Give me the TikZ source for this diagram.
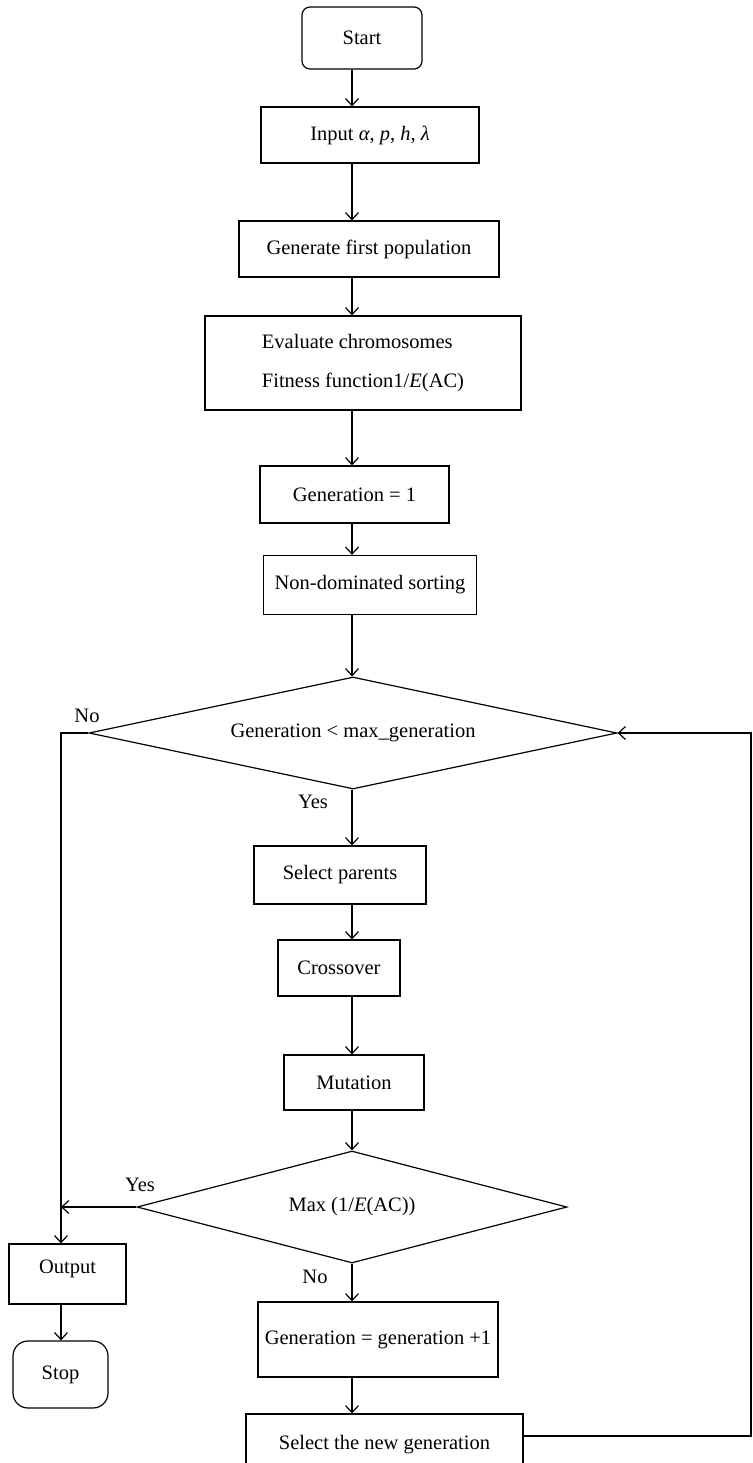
\documentclass[tikz,border=0pt]{standalone}
\usepackage{fontspec}
\setmainfont{Liberation Serif}
\usetikzlibrary{shapes.geometric,arrows.meta}
\begin{document}
\begin{tikzpicture}[x=1pt,y=-1pt,
  every node/.style={font=\fontsize{20.5}{39}\selectfont},
  blk/.style={draw, line width=1.2pt, inner sep=0pt},
  rblk/.style={blk, rounded corners=#1},
  dec/.style={draw, diamond, line width=1.2pt, inner sep=0pt},
  ln/.style={line width=1.2pt},
  arr/.style={line width=1.2pt, -{Straight Barb[length=7pt,width=13pt,line width=1.2pt]}}]
\useasboundingbox (0,0) rectangle (752,1463);
\clip (0,0) rectangle (752,1463);
\coordinate (ax) at (352,0);
\coordinate (lx) at (61,0);
\coordinate (rx) at (751,0);

\node[rblk=8pt, minimum width=120pt, minimum height=62pt] (start) at (362,38) {Start};
\node[blk, minimum width=218pt, minimum height=56pt] (in) at (370,135) {Input \textit{α}, \textit{p}, \textit{h}, \textit{λ}};
\node[blk, minimum width=260pt, minimum height=56pt] (gfp) at (369,249) {Generate first population};
\node[blk, minimum width=316pt, minimum height=94pt, align=left] (eval) at (363,363) {Evaluate chromosomes\\Fitness function1/\textit{E}(AC)};
\node[blk, minimum width=189pt, minimum height=57pt] (gen1) at (354.5,494.5) {Generation = 1};
\node[blk, minimum width=213pt, minimum height=59pt] (nds) at (370,585) {Non-dominated sorting};
\node[dec, minimum width=528pt, minimum height=112pt, aspect=4.7] (dec1) at (353,733) {Generation < max\_generation};
\node[blk, minimum width=172pt, minimum height=58pt] (sel) at (340,875) {Select parents};
\node[blk, minimum width=122pt, minimum height=56pt] (cross) at (339,968) {Crossover};
\node[blk, minimum width=140pt, minimum height=55pt] (mut) at (354,1082.5) {Mutation};
\node[dec, minimum width=430pt, minimum height=112pt, aspect=3.8] (dec2) at (352,1207) {Max (1/\textit{E}(AC))};
\node[blk, minimum width=117pt, minimum height=60pt, text height=10pt, text depth=12pt] (out) at (67.5,1274) {Output};
\node[rblk=15pt, minimum width=95pt, minimum height=67pt] (stop) at (60.5,1374.5) {Stop};
\node[blk, minimum width=240pt, minimum height=75pt] (gnext) at (378,1339.5) {Generation = generation +1};
\node[blk, minimum width=277pt, minimum height=62pt] (selnew) at (384.5,1445) {Select the new generation};

\node (no1) at (87,716) {No};
\node (yes1) at (313,802) {Yes};
\node (yes2) at (140,1185) {Yes};
\node (no2) at (315,1277) {No};

\draw[arr] (start.south -| ax) -- (in.north -| ax);
\draw[arr] (in.south -| ax) -- (gfp.north -| ax);
\draw[arr] (gfp.south -| ax) -- (eval.north -| ax);
\draw[arr] (eval.south -| ax) -- (gen1.north -| ax);
\draw[arr] (gen1.south -| ax) -- (nds.north -| ax);
\draw[arr] (nds.south -| ax) -- (dec1.north -| ax);
\draw[arr] (dec1.south -| ax) -- (sel.north -| ax);
\draw[arr] (sel.south -| ax) -- (cross.north -| ax);
\draw[arr] (cross.south -| ax) -- (mut.north -| ax);
\draw[arr] (mut.south -| ax) -- (dec2.north -| ax);
\draw[arr] (dec2.south -| ax) -- (gnext.north -| ax);
\draw[arr] (gnext.south -| ax) -- (selnew.north -| ax);
\draw[arr] (dec1.west) -- (dec1.west -| lx) -- (out.north -| lx);
\draw[arr] (dec2.west) -- (dec2.west -| lx);
\draw[arr] (out.south -| lx) -- (stop.north -| lx);
\draw[arr] ([yshift=9pt]selnew.east) -- ([yshift=9pt]selnew.east -| rx) -- (dec1.east -| rx) -- (dec1.east);
\end{tikzpicture}
\end{document}
